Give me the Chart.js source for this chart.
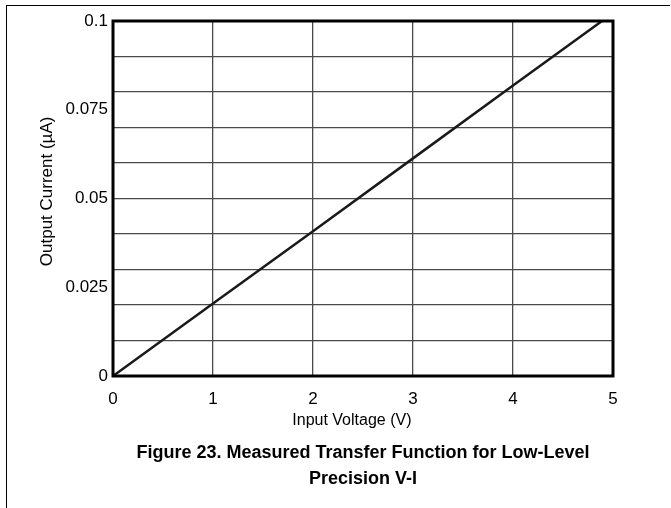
<!DOCTYPE html>
<html lang="en">
<head>
    <meta charset="UTF-8">
    <title>Measured Transfer Function for Low-Level Precision V-I</title>
    <script src="https://cdn.jsdelivr.net/npm/chart.js"></script>
    <style>
        body {
            margin: 0;
            background: #fff;
        }
        .wrap {
            position: relative;
            width: 671px;
            height: 508px;
        }
        .frame {
            position: absolute;
            left: 6px;
            top: 5px;
            right: 1px;
            bottom: 0;
            border-top: 1px solid #000;
            border-left: 1px solid #000;
            pointer-events: none;
        }
        canvas {
            position: absolute;
            left: 0;
            top: 0;
        }
    </style>
</head>
<body>
<div class="wrap">
    <canvas id="chart" width="671" height="508"></canvas>
    <div class="frame"></div>
</div>

<script>
// measured curve (input voltage in V, output current in uA)
const inputVoltage = [0, 1, 2, 3, 4, 4.89];
const outputCurrent = [0, 0.0204, 0.0408, 0.0613, 0.0818, 0.1];

// axis ticks
const xTicks = [0, 1, 2, 3, 4, 5];
const yGridValues = [0, 0.01, 0.02, 0.03, 0.04, 0.05, 0.06, 0.07, 0.08, 0.09, 0.1];
const yLabelValues = [0, 0.025, 0.05, 0.075, 0.1];
const yTickLabels = ['0', '0.025', '0.05', '0.075', '0.1'];

const captionLines = ['Figure 23. Measured Transfer Function for Low-Level', 'Precision V-I'];

const FONT = "'Liberation Sans', Arial, sans-serif";

function same(a, b) { return Math.abs(a - b) < 1e-9; }
function isGrid(v) { return yGridValues.some(g => same(g, v)); }

// thick box round the plot area
const plotBox = {
    id: 'plotBox',
    afterDatasetsDraw(chart) {
        const a = chart.chartArea;
        const c = chart.ctx;
        c.save();
        c.strokeStyle = '#000';
        c.lineWidth = 3;
        c.strokeRect(a.left, a.top, a.right - a.left, a.bottom - a.top);
        c.restore();
    }
};

const allY = yGridValues.concat(yLabelValues.filter(v => !isGrid(v))).sort((a, b) => a - b);

new Chart(document.getElementById('chart'), {
    type: 'scatter',
    data: {
        datasets: [{
            data: inputVoltage.map((v, i) => ({x: v, y: outputCurrent[i]})),
            showLine: true,
            borderColor: '#1a1a1a',
            borderWidth: 2.5,
            pointRadius: 0,
            tension: 0
        }]
    },
    options: {
        responsive: false,
        animation: false,
        layout: {
            padding: {left: 37, right: 58, top: 21, bottom: 16}
        },
        plugins: {
            legend: {display: false},
            tooltip: {enabled: false},
            title: {
                display: true,
                position: 'bottom',
                fullSize: false,
                text: captionLines,
                color: '#000',
                font: {family: FONT, size: 18, weight: 'bold', lineHeight: 26 / 18},
                padding: {top: 10, bottom: 0}
            }
        },
        scales: {
            x: {
                type: 'linear',
                min: 0,
                max: 5,
                afterBuildTicks: s => { s.ticks = xTicks.map(v => ({value: v})); },
                afterFit: s => { s.height = 54; },
                grid: {color: '#4a4a4a', lineWidth: 1.3, drawTicks: false},
                border: {display: false},
                ticks: {
                    color: '#000',
                    padding: 13,
                    font: {family: FONT, size: 17}
                },
                title: {
                    display: true,
                    text: 'Input Voltage (V)     ',
                    color: '#000',
                    font: {family: FONT, size: 16},
                    padding: {top: 0, bottom: 0}
                }
            },
            y: {
                type: 'linear',
                min: 0,
                max: 0.1,
                afterBuildTicks: s => { s.ticks = allY.map(v => ({value: v})); },
                afterFit: s => { s.width = 76; },
                grid: {
                    color: ctx => (ctx.tick && isGrid(ctx.tick.value)) ? '#4a4a4a' : 'rgba(0,0,0,0)',
                    lineWidth: 1.3,
                    drawTicks: false
                },
                border: {display: false},
                ticks: {
                    color: '#000',
                    padding: 5,
                    autoSkip: false,
                    font: {family: FONT, size: 17},
                    callback: v => {
                        const i = yLabelValues.findIndex(l => same(l, v));
                        return i >= 0 ? yTickLabels[i] : '';
                    }
                },
                title: {
                    display: true,
                    text: '   Output Current (µA)',
                    color: '#000',
                    font: {family: FONT, size: 17},
                    padding: {top: 0, bottom: 0}
                }
            }
        }
    },
    plugins: [plotBox]
});
</script>
</body>
</html>
